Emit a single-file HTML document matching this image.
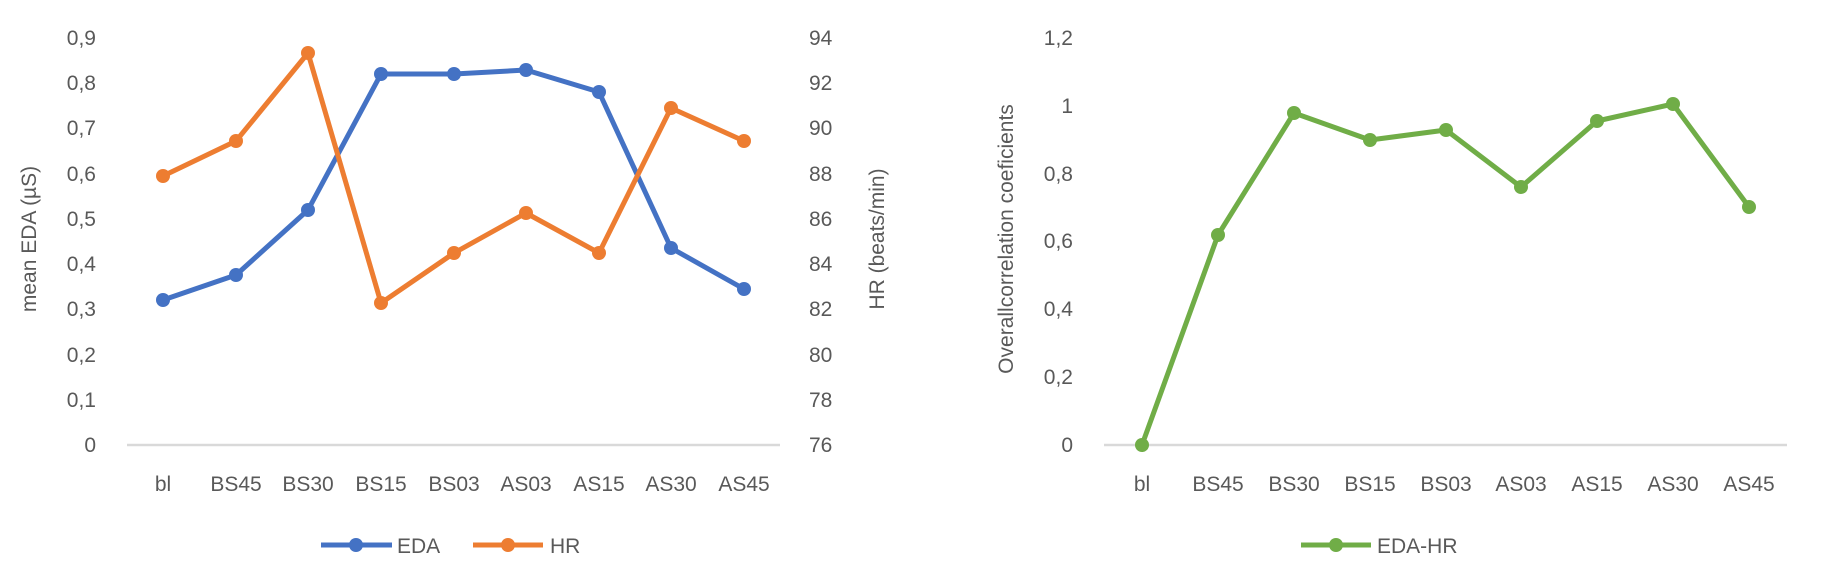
<!DOCTYPE html>
<html><head><meta charset="utf-8"><style>
html,body{margin:0;padding:0;background:#fff;}
svg{display:block;}
text{font-family:"Liberation Sans",sans-serif;fill:#595959;font-size:21px;font-stretch:condensed;}
</style></head><body>
<svg width="1824" height="582" viewBox="0 0 1824 582" xmlns="http://www.w3.org/2000/svg">
<!-- LEFT CHART -->
<line x1="127" y1="445" x2="780" y2="445" stroke="#d9d9d9" stroke-width="2.5"/>
<g text-anchor="end">
<text x="96" y="452">0</text><text x="96" y="407">0,1</text><text x="96" y="362">0,2</text>
<text x="96" y="316">0,3</text><text x="96" y="271">0,4</text><text x="96" y="226">0,5</text>
<text x="96" y="181">0,6</text><text x="96" y="135">0,7</text><text x="96" y="90">0,8</text>
<text x="96" y="45">0,9</text>
</g>
<g text-anchor="start">
<text x="809" y="452">76</text><text x="809" y="407">78</text><text x="809" y="362">80</text>
<text x="809" y="316">82</text><text x="809" y="271">84</text><text x="809" y="226">86</text>
<text x="809" y="181">88</text><text x="809" y="135">90</text><text x="809" y="90">92</text>
<text x="809" y="45">94</text>
</g>
<text transform="translate(36,239) rotate(-90)" text-anchor="middle">mean EDA (µS)</text>
<text transform="translate(884,239) rotate(-90)" text-anchor="middle">HR (beats/min)</text>
<g text-anchor="middle">
<text x="163" y="491">bl</text><text x="236" y="491">BS45</text><text x="308" y="491">BS30</text>
<text x="381" y="491">BS15</text><text x="454" y="491">BS03</text><text x="526" y="491">AS03</text>
<text x="599" y="491">AS15</text><text x="671" y="491">AS30</text><text x="744" y="491">AS45</text>
</g>
<polyline fill="none" stroke="#4472c4" stroke-width="5" stroke-linejoin="round" points="163,300 236,275 308,210 381,74 454,74 526,70 599,92 671,248 744,289"/>
<g fill="#4472c4">
<circle cx="163" cy="300" r="7"/><circle cx="236" cy="275" r="7"/><circle cx="308" cy="210" r="7"/>
<circle cx="381" cy="74" r="7"/><circle cx="454" cy="74" r="7"/><circle cx="526" cy="70" r="7"/>
<circle cx="599" cy="92" r="7"/><circle cx="671" cy="248" r="7"/><circle cx="744" cy="289" r="7"/>
</g>
<polyline fill="none" stroke="#ed7d31" stroke-width="5" stroke-linejoin="round" points="163,176 236,141 308,53 381,303 454,253 526,213 599,253 671,108 744,141"/>
<g fill="#ed7d31">
<circle cx="163" cy="176" r="7"/><circle cx="236" cy="141" r="7"/><circle cx="308" cy="53" r="7"/>
<circle cx="381" cy="303" r="7"/><circle cx="454" cy="253" r="7"/><circle cx="526" cy="213" r="7"/>
<circle cx="599" cy="253" r="7"/><circle cx="671" cy="108" r="7"/><circle cx="744" cy="141" r="7"/>
</g>
<line x1="321" y1="545" x2="392" y2="545" stroke="#4472c4" stroke-width="5"/>
<circle cx="356" cy="545" r="7" fill="#4472c4"/>
<text x="397" y="553">EDA</text>
<line x1="473" y1="545" x2="543" y2="545" stroke="#ed7d31" stroke-width="5"/>
<circle cx="508" cy="545" r="7" fill="#ed7d31"/>
<text x="550" y="553">HR</text>

<!-- RIGHT CHART -->
<line x1="1104" y1="445" x2="1787" y2="445" stroke="#d9d9d9" stroke-width="2.5"/>
<g text-anchor="end">
<text x="1073" y="452">0</text><text x="1073" y="384">0,2</text><text x="1073" y="316">0,4</text>
<text x="1073" y="248">0,6</text><text x="1073" y="181">0,8</text><text x="1073" y="113">1</text>
<text x="1073" y="45">1,2</text>
</g>
<text transform="translate(1013,239) rotate(-90)" text-anchor="middle">Overallcorrelation coeficients</text>
<g text-anchor="middle">
<text x="1142" y="491">bl</text><text x="1218" y="491">BS45</text><text x="1294" y="491">BS30</text>
<text x="1370" y="491">BS15</text><text x="1446" y="491">BS03</text><text x="1521" y="491">AS03</text>
<text x="1597" y="491">AS15</text><text x="1673" y="491">AS30</text><text x="1749" y="491">AS45</text>
</g>
<polyline fill="none" stroke="#70ad47" stroke-width="5" stroke-linejoin="round" points="1142,445 1218,235 1294,113 1370,140 1446,130 1521,187 1597,121 1673,104 1749,207"/>
<g fill="#70ad47">
<circle cx="1142" cy="445" r="7"/><circle cx="1218" cy="235" r="7"/><circle cx="1294" cy="113" r="7"/>
<circle cx="1370" cy="140" r="7"/><circle cx="1446" cy="130" r="7"/><circle cx="1521" cy="187" r="7"/>
<circle cx="1597" cy="121" r="7"/><circle cx="1673" cy="104" r="7"/><circle cx="1749" cy="207" r="7"/>
</g>
<line x1="1301" y1="545" x2="1371" y2="545" stroke="#70ad47" stroke-width="5"/>
<circle cx="1336" cy="545" r="7" fill="#70ad47"/>
<text x="1377" y="553">EDA-HR</text>
</svg>
</body></html>
